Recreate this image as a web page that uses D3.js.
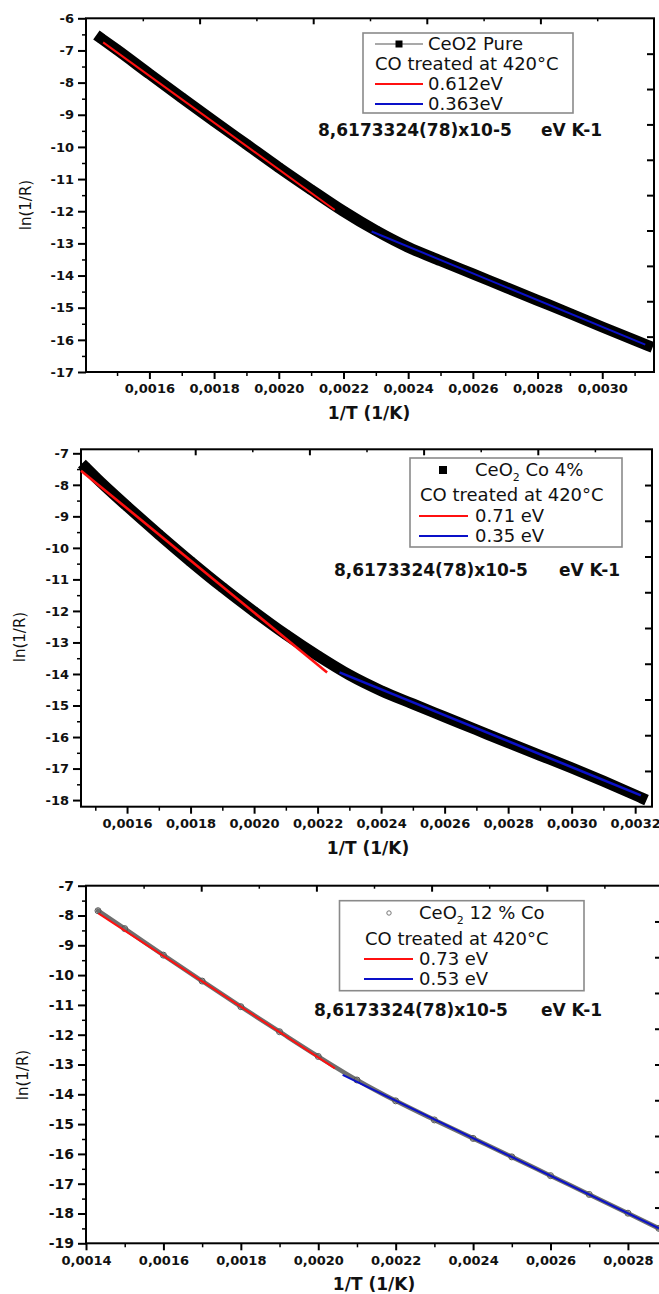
<!DOCTYPE html>
<html><head><meta charset="utf-8">
<script src="https://cdn.jsdelivr.net/npm/d3@7"></script>
<style>body{margin:0;background:#fff}svg{display:block}</style>
</head><body><svg id="c" width="659" height="1294"></svg>
<script>
// ---------- Panel 1 : CeO2 Pure ----------
const p1InvT = [0.00145,0.0015,0.0016,0.0017,0.0018,0.0019,0.0020,0.0021,0.0022,0.0023,0.0024,0.0025,0.0026,0.0027,0.0028,0.0029,0.0030,0.0031,0.00314];
const p1LnInvR = [-6.62,-6.98,-7.73,-8.47,-9.20,-9.92,-10.64,-11.33,-12.00,-12.60,-13.12,-13.54,-13.95,-14.36,-14.77,-15.18,-15.60,-16.01,-16.17];
const p1RedFitX = [0.001457,0.002173], p1RedFitY = [-6.75,-11.96];
const p1BlueFitX = [0.002287,0.003133], p1BlueFitY = [-12.63,-16.15];
const p1XTicks = [0.0016,0.0018,0.0020,0.0022,0.0024,0.0026,0.0028,0.0030];
const p1YTicks = [-17,-16,-15,-14,-13,-12,-11,-10,-9,-8,-7,-6];
const p1Legend = ["CeO2 Pure","CO treated at 420°C","0.612eV","0.363eV"];

// ---------- Panel 2 : CeO2 Co 4% ----------
const p2InvT = [0.00147,0.0015,0.0016,0.0017,0.0018,0.0019,0.0020,0.0021,0.0022,0.0023,0.0024,0.0025,0.0026,0.0027,0.0028,0.0029,0.0030,0.0031,0.00318,0.00322];
const p2LnInvR = [-7.45,-7.75,-8.68,-9.57,-10.43,-11.25,-12.02,-12.75,-13.42,-14.03,-14.53,-14.95,-15.36,-15.77,-16.18,-16.58,-16.98,-17.40,-17.75,-17.93];
const p2RedFitX = [0.001455,0.00223], p2RedFitY = [-7.55,-13.95];
const p2BlueFitX = [0.002269,0.003218], p2BlueFitY = [-13.95,-17.85];
const p2XTicks = [0.0016,0.0018,0.0020,0.0022,0.0024,0.0026,0.0028,0.0030,0.0032];
const p2YTicks = [-18,-17,-16,-15,-14,-13,-12,-11,-10,-9,-8,-7];
const p2Legend = ["CeO|2| Co 4%","CO treated at 420°C","0.71 eV","0.35 eV"];

// ---------- Panel 3 : CeO2 12 % Co ----------
const p3InvT = [0.001431,0.0015,0.0016,0.0017,0.0018,0.0019,0.0020,0.0021,0.0022,0.0023,0.0024,0.0025,0.0026,0.0027,0.0028,0.00288];
const p3LnInvR = [-7.84,-8.44,-9.33,-10.20,-11.06,-11.90,-12.73,-13.52,-14.22,-14.86,-15.48,-16.10,-16.73,-17.36,-17.99,-18.50];
const p3RedFitX = [0.001432,0.002043], p3RedFitY = [-7.93,-13.13];
const p3BlueFitX = [0.002063,0.00288], p3BlueFitY = [-13.35,-18.50];
const p3XTicks = [0.0014,0.0016,0.0018,0.0020,0.0022,0.0024,0.0026,0.0028];
const p3YTicks = [-19,-18,-17,-16,-15,-14,-13,-12,-11,-10,-9,-8,-7];
const p3Legend = ["CeO|2| 12 % Co","CO treated at 420°C","0.73 eV","0.53 eV"];

const boltzmannText = ["8,6173324(78)x10-5","eV K-1"];
const xTitle = "1/T (1/K)";
const yTitle = "ln(1/R)";

const FONT = "'DejaVu Sans', sans-serif";
const svg = d3.select('#c');

function styleAxis(sel, width, fs, bold){
  sel.select('.domain').remove();
  sel.selectAll('.tick line').attr('stroke','#000').attr('stroke-width',width);
  sel.selectAll('.tick text').attr('font-family',FONT).attr('font-size',fs)
     .attr('font-weight',bold?'bold':'normal').attr('fill','#111');
}

function drawPanel(o){
  const g = svg.append('g');
  const x = d3.scaleLinear().domain(o.xDomain).range([o.left,o.right]);
  const y = d3.scaleLinear().domain(o.yDomain).range([o.bottom,o.top]);
  const xTop = d3.scaleLinear().domain([0,5]).range([o.left,o.right]);
  const yRight = d3.scaleLinear().domain([o.yRightTop,o.yRightTop-10]).range([o.top,o.bottom]);

  const xMin = d3.range(Math.ceil(o.xDomain[0]*10000),Math.floor(o.xDomain[1]*10000)+1)
      .map(v=>v/10000).filter(v=>Math.round(v*10000)%2===1);
  const yMin = d3.range(Math.ceil(o.yDomain[0]*2),Math.floor(o.yDomain[1]*2)+1)
      .map(v=>v/2).filter(v=>Math.abs(v%1)===0.5);

  g.append('g').attr('transform',`translate(0,${o.bottom})`)
    .call(d3.axisBottom(x).tickValues(xMin).tickSize(4).tickFormat(''))
    .call(s=>styleAxis(s,1.5,13,true));
  g.append('g').attr('transform',`translate(0,${o.bottom})`)
    .call(d3.axisBottom(x).tickValues(o.xTicks).tickSize(7).tickPadding(5)
      .tickFormat(d=>d.toFixed(4).replace('.',',')))
    .call(s=>styleAxis(s,2,13,true));
  g.append('g').attr('transform',`translate(${o.left},0)`)
    .call(d3.axisLeft(y).tickValues(yMin).tickSize(4).tickFormat(''))
    .call(s=>styleAxis(s,1.5,13,true));
  g.append('g').attr('transform',`translate(${o.left},0)`)
    .call(d3.axisLeft(y).tickValues(o.yTicks).tickSize(8).tickPadding(4).tickFormat(d=>String(d)))
    .call(s=>styleAxis(s,2,o.yFs,true));
  g.append('g').attr('transform',`translate(0,${o.top})`)
    .call(d3.axisTop(xTop).tickValues([0.5,1.5,2.5,3.5,4.5]).tickSize(-3).tickFormat(''))
    .call(s=>styleAxis(s,1.5,13,true));
  g.append('g').attr('transform',`translate(0,${o.top})`)
    .call(d3.axisTop(xTop).tickValues([1,2,3,4]).tickSize(-6).tickFormat(''))
    .call(s=>styleAxis(s,2,13,true));
  g.append('g').attr('transform',`translate(${o.right},0)`)
    .call(d3.axisRight(yRight).tickValues(d3.range(1,10).map(k=>o.yRightTop-k)).tickSize(-7).tickFormat(''))
    .call(s=>styleAxis(s,2,13,true));

  g.append('rect').attr('x',o.left).attr('y',o.top)
    .attr('width',o.right-o.left).attr('height',o.bottom-o.top)
    .attr('fill','none').attr('stroke','#000').attr('stroke-width',2);

  const pts = o.dataX.map((v,i)=>[v,o.dataY[i]]);
  const line = d3.line().x(d=>x(d[0])).y(d=>y(d[1])).curve(d3.curveMonotoneX);
  if(o.marker==='square'){
    g.append('path').attr('d',line(pts)).attr('fill','none')
      .attr('stroke','#000').attr('stroke-width',o.bandW).attr('stroke-linecap','square')
      .attr('stroke-linejoin','round');
    g.selectAll('.sq').data(pts).join('path')
      .attr('transform',d=>`translate(${x(d[0])},${y(d[1])})`)
      .attr('d',d3.symbol(d3.symbolSquare,o.bandW*o.bandW*0.5)).attr('fill','#000');
  } else {
    g.append('path').attr('d',line(pts)).attr('fill','none')
      .attr('stroke','#6e6e6e').attr('stroke-width',4.5).attr('stroke-linecap','round');
    g.selectAll('.ci').data(pts).join('circle')
      .attr('cx',d=>x(d[0])).attr('cy',d=>y(d[1])).attr('r',3)
      .attr('fill','none').attr('stroke','#555').attr('stroke-width',1);
  }
  const fl = d3.line().x(d=>x(d[0])).y(d=>y(d[1]));
  g.append('path').attr('d',fl(o.redX.map((v,i)=>[v,o.redY[i]])))
    .attr('stroke','#ff1010').attr('stroke-width',o.fitW).attr('fill','none');
  g.append('path').attr('d',fl(o.blueX.map((v,i)=>[v,o.blueY[i]])))
    .attr('stroke','#0a10c8').attr('stroke-width',o.fitW).attr('fill','none');

  const L = o.legend;
  g.append('rect').attr('x',L.x0).attr('y',L.y0).attr('width',L.x1-L.x0).attr('height',L.y1-L.y0)
    .attr('fill','#fff').attr('stroke','#8a8a8a').attr('stroke-width',1.6);
  const txt = (tx,ty,s)=>{
    const t = g.append('text').attr('x',tx).attr('y',ty).attr('font-family',FONT)
      .attr('font-size',18).attr('fill','#111');
    const parts = s.split('|');
    parts.forEach((p,i)=>{
      if(i===1) t.append('tspan').attr('font-size',11).attr('dy',5).text(p);
      else if(i===2) t.append('tspan').attr('dy',-5).text(p);
      else t.append('tspan').text(p);
    });
    return t;
  };
  if(o.marker==='square'){
    if(L.symLine){
      g.append('line').attr('x1',L.lx0).attr('x2',L.lx1).attr('y1',L.rows[0]).attr('y2',L.rows[0])
        .attr('stroke','#555').attr('stroke-width',1.2);
    }
    g.append('path').attr('transform',`translate(${L.mx},${L.rows[0]})`)
      .attr('d',d3.symbol(d3.symbolSquare,L.msize)).attr('fill','#000');
  } else {
    g.append('circle').attr('cx',L.mx).attr('cy',L.rows[0]).attr('r',2.2)
      .attr('fill','none').attr('stroke','#777').attr('stroke-width',1);
  }
  txt(L.tx,L.rows[0]+6,o.legendText[0]);
  txt(L.tx2,L.rows[1]+6,o.legendText[1]);
  g.append('line').attr('x1',L.lx0).attr('x2',L.lx1).attr('y1',L.rows[2]).attr('y2',L.rows[2])
    .attr('stroke','#ff1010').attr('stroke-width',2.2);
  txt(L.tx,L.rows[2]+6,o.legendText[2]);
  g.append('line').attr('x1',L.lx0).attr('x2',L.lx1).attr('y1',L.rows[3]).attr('y2',L.rows[3])
    .attr('stroke','#0a10c8').attr('stroke-width',2.2);
  txt(L.tx,L.rows[3]+6,o.legendText[3]);

  g.append('text').attr('x',o.ann.x1).attr('y',o.ann.y).attr('font-family',FONT)
    .attr('font-size',17).attr('font-weight','bold').attr('fill','#111').text(boltzmannText[0]);
  g.append('text').attr('x',o.ann.x2).attr('y',o.ann.y).attr('font-family',FONT)
    .attr('font-size',17).attr('font-weight','bold').attr('fill','#111').text(boltzmannText[1]);

  g.append('text').attr('x',o.xt.x).attr('y',o.xt.y).attr('text-anchor','middle')
    .attr('font-family',FONT).attr('font-size',17).attr('font-weight','bold').attr('fill','#111').text(xTitle);
  g.append('text').attr('transform',`translate(${o.yt.x},${o.yt.y}) rotate(-90)`)
    .attr('text-anchor','middle').attr('font-family',FONT).attr('font-size',15)
    .attr('fill','#111').text(yTitle);
}

drawPanel({
  left:86,right:654,top:18.3,bottom:372,
  xDomain:[0.001404,0.00316], yDomain:[-17,-6], yRightTop:-6,
  xTicks:p1XTicks, yTicks:p1YTicks, yFs:13,
  dataX:p1InvT, dataY:p1LnInvR, marker:'square', bandW:11,
  redX:p1RedFitX, redY:p1RedFitY, blueX:p1BlueFitX, blueY:p1BlueFitY, fitW:2,
  legendText:p1Legend,
  legend:{x0:363,x1:573,y0:33,y1:113,rows:[44,64,84,104],lx0:375,lx1:423,mx:399,msize:49,symLine:true,tx:428,tx2:375},
  ann:{x1:318,x2:541,y:136},
  xt:{x:369,y:419}, yt:{x:31,y:205}
});
drawPanel({
  left:81,right:652,top:449.3,bottom:806.7,
  xDomain:[0.001455,0.003253], yDomain:[-18.21,-6.873], yRightTop:-7,
  xTicks:p2XTicks, yTicks:p2YTicks, yFs:13,
  dataX:p2InvT, dataY:p2LnInvR, marker:'square', bandW:11,
  redX:p2RedFitX, redY:p2RedFitY, blueX:p2BlueFitX, blueY:p2BlueFitY, fitW:2.6,
  legendText:p2Legend,
  legend:{x0:410,x1:622,y0:458,y1:547,rows:[470,495,516,536],lx0:419,lx1:468,mx:443,msize:64,symLine:false,tx:475,tx2:420},
  ann:{x1:334,x2:559,y:576},
  xt:{x:368,y:854}, yt:{x:25,y:637}
});
drawPanel({
  left:86,right:662,top:885.7,bottom:1243.3,
  xDomain:[0.0014,0.002888], yDomain:[-19,-7], yRightTop:-7,
  xTicks:p3XTicks, yTicks:p3YTicks, yFs:14,
  dataX:p3InvT, dataY:p3LnInvR, marker:'circle',
  redX:p3RedFitX, redY:p3RedFitY, blueX:p3BlueFitX, blueY:p3BlueFitY, fitW:2,
  legendText:p3Legend,
  legend:{x0:339.5,x1:584,y0:900.7,y1:990.7,rows:[913,939,959,979],lx0:364,lx1:413,mx:389,msize:0,symLine:false,tx:419,tx2:365},
  ann:{x1:314,x2:541,y:1016},
  xt:{x:374,y:1290}, yt:{x:28,y:1075}
});
</script></body></html>
